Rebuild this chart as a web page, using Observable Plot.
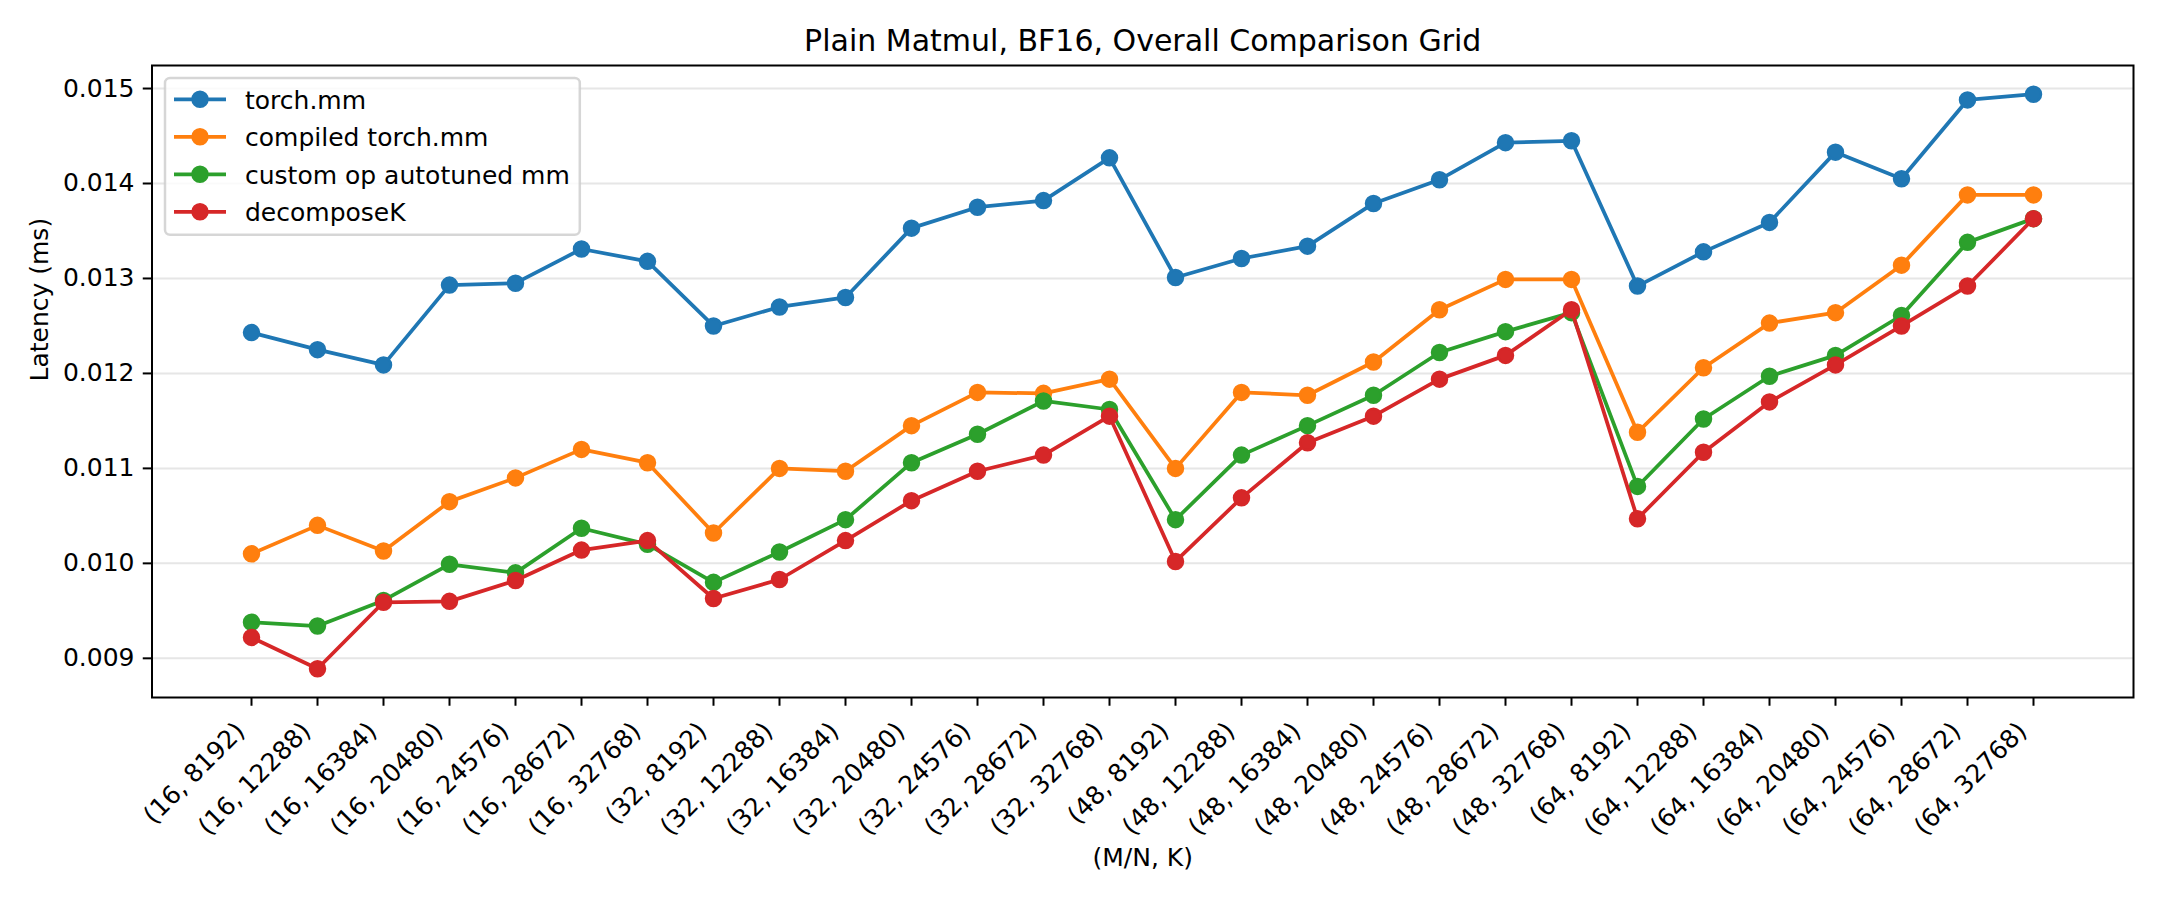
<!DOCTYPE html>
<html>
<head>
<meta charset="utf-8">
<script src="https://cdn.jsdelivr.net/npm/d3@7"></script>
<script src="https://cdn.jsdelivr.net/npm/@observablehq/plot@0.6"></script>
<style>
  html, body { margin: 0; padding: 0; background: #fff; }
  #chart { position: relative; width: 2160px; height: 900px; }
  #chart svg { display: block; }
  #legend { position: absolute; left: 0; top: 0; pointer-events: none; }
</style>
</head>
<body>
<div id="chart"></div>
<script>
// (M/N, K) problem shapes
const categories = [
  "(16, 8192)", "(16, 12288)", "(16, 16384)", "(16, 20480)", "(16, 24576)", "(16, 28672)", "(16, 32768)",
  "(32, 8192)", "(32, 12288)", "(32, 16384)", "(32, 20480)", "(32, 24576)", "(32, 28672)", "(32, 32768)",
  "(48, 8192)", "(48, 12288)", "(48, 16384)", "(48, 20480)", "(48, 24576)", "(48, 28672)", "(48, 32768)",
  "(64, 8192)", "(64, 12288)", "(64, 16384)", "(64, 20480)", "(64, 24576)", "(64, 28672)", "(64, 32768)"
];

// Latency in ms for each implementation
const torchMm = [
  0.01243, 0.01225, 0.01209, 0.01293, 0.01295, 0.01331, 0.01318,
  0.01250, 0.01270, 0.01280, 0.01353, 0.01375, 0.01382, 0.01427,
  0.01301, 0.01321, 0.01334, 0.01379, 0.01404, 0.01443, 0.01445,
  0.01292, 0.01328, 0.01359, 0.01433, 0.01405, 0.01488, 0.01494
];
const compiledTorchMm = [
  0.01010, 0.01040, 0.01013, 0.01065, 0.01090, 0.01120, 0.01106,
  0.01032, 0.01100, 0.01097, 0.01145, 0.01180, 0.01179, 0.01194,
  0.01100, 0.01180, 0.01177, 0.01212, 0.01267, 0.01299, 0.01299,
  0.01138, 0.01206, 0.01253, 0.01264, 0.01314, 0.01388, 0.01388
];
const customOpMm = [
  0.00938, 0.00934, 0.00961, 0.00999, 0.00990, 0.01037, 0.01020,
  0.00980, 0.01012, 0.01046, 0.01106, 0.01136, 0.01171, 0.01162,
  0.01046, 0.01114, 0.01145, 0.01177, 0.01222, 0.01244, 0.01264,
  0.01081, 0.01152, 0.01197, 0.01219, 0.01261, 0.01338, 0.01363
];
const decomposeK = [
  0.00922, 0.00889, 0.00959, 0.00960, 0.00982, 0.01014, 0.01024,
  0.00963, 0.00983, 0.01024, 0.01066, 0.01097, 0.01114, 0.01155,
  0.01002, 0.01069, 0.01127, 0.01155, 0.01194, 0.01219, 0.01267,
  0.01047, 0.01117, 0.01170, 0.01209, 0.01250, 0.01292, 0.01363
];

const seriesNames = ["torch.mm", "compiled torch.mm", "custom op autotuned mm", "decomposeK"];
const seriesColors = ["#1f77b4", "#ff7f0e", "#2ca02c", "#d62728"];
const yTicks = [0.009, 0.010, 0.011, 0.012, 0.013, 0.014, 0.015];

const titleText = "Plain Matmul, BF16, Overall Comparison Grid";
const xLabel = "(M/N, K)";
const yLabel = "Latency (ms)";

const seriesValues = [torchMm, compiledTorchMm, customOpMm, decomposeK];
const rows = seriesValues.flatMap((vals, s) =>
  vals.map((v, i) => ({series: seriesNames[s], shape: categories[i], latency: v}))
);

// 5% padding around the data range on y
const allValues = rows.map(d => d.latency);
const lo = d3.min(allValues), hi = d3.max(allValues);
const yPad = (hi - lo) * 0.05;

const FONT = "DejaVu Sans, sans-serif";

const marks = [
  Plot.gridY(yTicks, {stroke: "#e6e6e6", strokeOpacity: 1, strokeWidth: 2})
];
// each series: its line, then its markers, drawn in legend order
seriesNames.forEach((name, s) => {
  const data = rows.filter(d => d.series === name);
  marks.push(Plot.lineY(data, {x: "shape", y: "latency", stroke: seriesColors[s], strokeWidth: 3.75, strokeLinejoin: "round"}));
  marks.push(Plot.dot(data, {x: "shape", y: "latency", r: 7.5, fill: seriesColors[s], stroke: seriesColors[s], strokeWidth: 2.5}));
});
marks.push(
  Plot.axisY(yTicks, {tickSize: 8.75, tickPadding: 8.75, tickFormat: d3.format(".3f"), strokeWidth: 2, label: null, fontSize: 25}),
  Plot.axisX(categories, {tickSize: 8.75, tickFormat: () => "", strokeWidth: 2, label: null}),
  Plot.text(categories, {
    x: d => d, text: d => d, frameAnchor: "bottom",
    dx: -11, dy: 29.5, rotate: -45, textAnchor: "end", lineAnchor: "middle", fontSize: 25
  }),
  Plot.text([titleText], {text: d => d, frameAnchor: "top", dy: -15, lineAnchor: "bottom", fontSize: 30}),
  Plot.text([xLabel], {text: d => d, frameAnchor: "bottom", dy: 160, lineAnchor: "middle", fontSize: 25}),
  Plot.text([yLabel], {text: d => d, frameAnchor: "left", dx: -112.5, rotate: -90, lineAnchor: "middle", fontSize: 25}),
  Plot.frame({stroke: "black", strokeWidth: 2})
);

const chart = Plot.plot({
  width: 2160,
  height: 900,
  marginTop: 65,
  marginRight: 27,
  marginBottom: 203,
  marginLeft: 151.5,
  style: {fontFamily: FONT, fontSize: "25px", color: "black", background: "white"},
  x: {type: "point", domain: categories, padding: 1.35, axis: null},
  y: {domain: [lo - yPad, hi + yPad], axis: null},
  marks
});

const host = document.getElementById("chart");
host.appendChild(chart);

// Legend box in the upper-left corner of the axes
const legend = d3.select(host).append("svg")
  .attr("id", "legend")
  .attr("width", 2160).attr("height", 900)
  .style("font-family", FONT);

const boxX = 165, boxY = 78, rowY0 = 99.3, rowStep = 37.5;
const handleX0 = 174, handleX1 = 226, textX = 245;

const box = legend.append("rect")
  .attr("x", boxX).attr("y", boxY)
  .attr("rx", 5).attr("ry", 5)
  .attr("fill", "white").attr("fill-opacity", 0.8)
  .attr("stroke", "#cccccc").attr("stroke-opacity", 0.8).attr("stroke-width", 2.5);

let maxLen = 0;
seriesNames.forEach((name, i) => {
  const y = rowY0 + rowStep * i;
  legend.append("line")
    .attr("x1", handleX0).attr("x2", handleX1).attr("y1", y).attr("y2", y)
    .attr("stroke", seriesColors[i]).attr("stroke-width", 3.75);
  legend.append("circle")
    .attr("cx", (handleX0 + handleX1) / 2).attr("cy", y).attr("r", 7.5)
    .attr("fill", seriesColors[i]).attr("stroke", seriesColors[i]).attr("stroke-width", 2.5);
  const t = legend.append("text")
    .attr("x", textX).attr("y", y + 9.5)
    .attr("font-size", 25).attr("fill", "black")
    .text(name);
  maxLen = Math.max(maxLen, t.node().getComputedTextLength());
});
const boxH = rowY0 + rowStep * (seriesNames.length - 1) + 23 - boxY;
box.attr("width", textX + maxLen + 10 - boxX).attr("height", boxH);
</script>
</body>
</html>
